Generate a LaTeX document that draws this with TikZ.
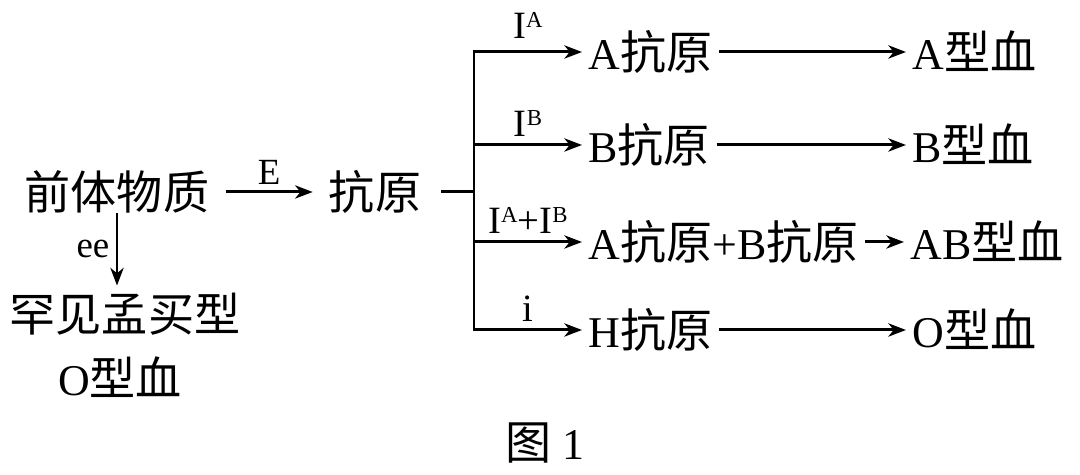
\documentclass[tikz,border=0pt]{standalone}
\usepackage{fontspec}
\setmainfont{Liberation Serif}
\newfontfamily\cjk[Scale=1.05]{Noto Sans CJK SC}
\usetikzlibrary{arrows.meta}
\newcommand{\zh}[1]{{\cjk #1}}
\newcommand{\sups}[1]{\raisebox{6pt}{\fontsize{13}{13}\selectfont #1}}
\tikzstyle{every node}=[font=\fontsize{25}{30}\selectfont]
\tikzstyle{txt}=[inner xsep=3.5pt, inner ysep=2pt, text height=20pt, text depth=0pt]
\tikzstyle{lab}=[inner sep=4pt, font=\fontsize{22}{26}\selectfont]
\tikzstyle{slab}=[inner sep=3.5pt, font=\fontsize{21}{25}\selectfont]
\tikzstyle{ln}=[line width=1.7pt]
\tikzstyle{arr}=[line width=1.7pt, -{Stealth[length=10pt,width=7.5pt,inset=3pt]}]
\begin{document}
\begin{tikzpicture}[x=0.02cm,y=-0.02cm]
        \useasboundingbox (0,0) rectangle (1080,475);
        \node[txt] (pre) at (117,192) {\zh{前体物质}};
        \node[txt] (kang) at (375,192) {\zh{抗原}};
        \node[txt, inner ysep=6pt] (rare) at (125,314) {\zh{罕见孟买型}};
        \node[txt] (rareO) at (120,378) {O\zh{型血}};
        \coordinate (fork) at (474,192);
        \coordinate (rA) at (474,52);
        \coordinate (rB) at (474,145);
        \coordinate (rAB) at (474,242);
        \coordinate (rO) at (474,330);
        \node[txt, anchor=west] (agA) at (582,52) {A\zh{抗原}};
        \node[txt, anchor=west] (agB) at (582,145) {B\zh{抗原}};
        \node[txt, anchor=west] (agAB) at (582,242) {A\zh{抗原}+B\zh{抗原}};
        \node[txt, anchor=west] (agH) at (582,330) {H\zh{抗原}};
        \node[txt, anchor=west] (bA) at (906,52) {A\zh{型血}};
        \node[txt, anchor=west] (bB) at (906,145) {B\zh{型血}};
        \node[txt, anchor=west] (bAB) at (904,242) {AB\zh{型血}};
        \node[txt, anchor=west] (bO) at (906,330) {O\zh{型血}};
        \node[txt] (cap) at (545,442) {\zh{图} 1};
        \draw[arr, shorten <=6pt, shorten >=5.5pt] (pre) -- (kang) node[slab, midway, above] {E};
        \draw[arr] (pre.south) -- (pre.south |- rare.north) node[slab, midway, left] {ee};
        \draw[ln, shorten <=7.5pt] (kang) -- (fork);
        \draw[ln, line cap=rect] (rA) -- (rO);
        \draw[arr] (rA) -- (agA) node[lab, midway, above, yshift=3pt] {I\sups{A}};
        \draw[arr] (rB) -- (agB) node[lab, midway, above] {I\sups{B}};
        \draw[arr] (rAB) -- (agAB) node[lab, midway, above] {I\sups{A}+I\sups{B}};
        \draw[arr] (rO) -- (agH) node[lab, midway, above] {i};
        \draw[arr] (agA) -- (bA);
        \draw[arr] (agB) -- (bB);
        \draw[arr] (agAB) -- (bAB);
        \draw[arr] (agH) -- (bO);
    \end{tikzpicture}
\end{document}
